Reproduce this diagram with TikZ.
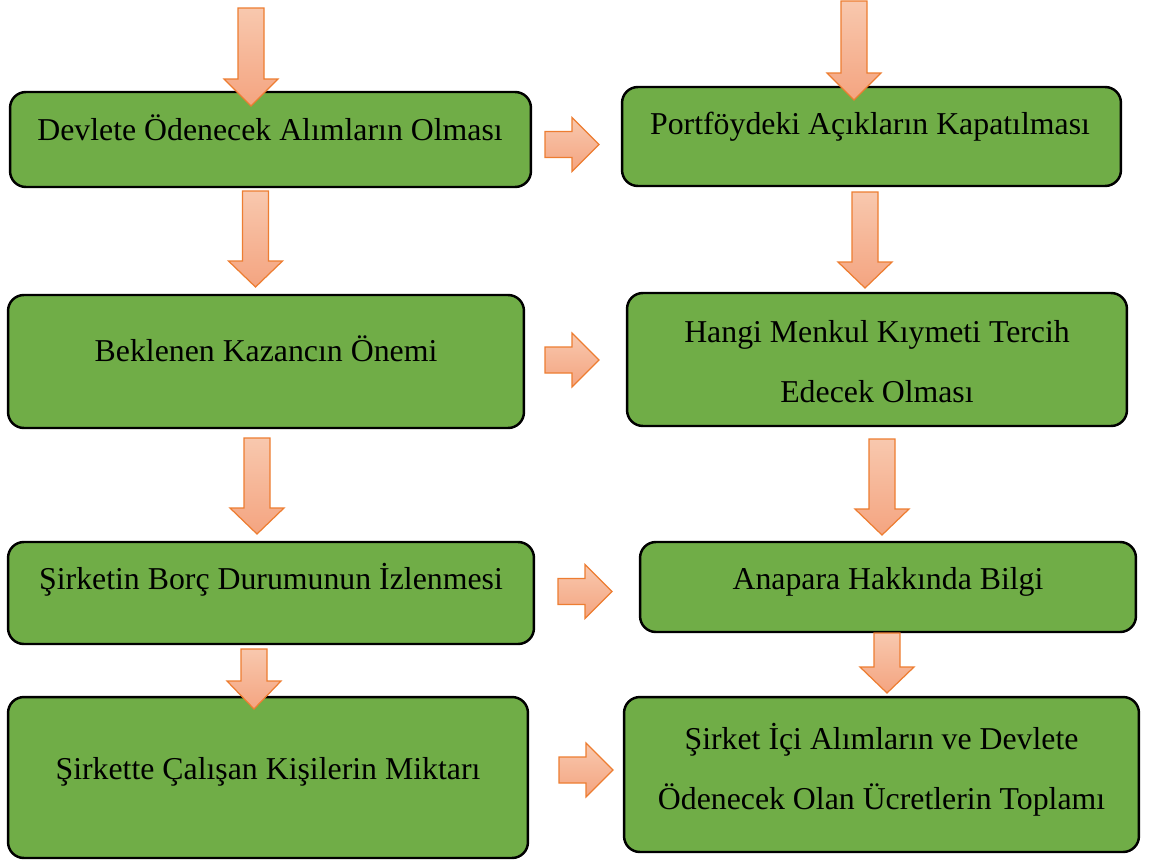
\documentclass[tikz,border=0pt]{standalone}
\usepackage{fontspec}
\setmainfont{Liberation Serif}
\definecolor{boxgreen}{RGB}{112,173,71}
\definecolor{arrline}{RGB}{237,125,49}
\definecolor{arrtop}{RGB}{248,200,174}
\definecolor{arrbot}{RGB}{244,164,128}
\usepackage{tikz}
\usetikzlibrary{positioning, calc}
\tikzset{
  gbox/.style={draw=black, fill=boxgreen, rounded corners=9pt,
               line width=1.4pt, inner sep=0pt},
  txt/.style={font=\fontsize{18.1}{34.6}\selectfont, align=center,
              text height=0.8em, text depth=0.14em, inner sep=0pt},
  blockarr/.style={draw=arrline, line width=0.7pt, top color=arrtop,
                   bottom color=arrbot},
}
% block arrows: x, top, head base, tip  /  tail, head base, tip, y
\newcommand{\downarr}[4]{%
  \draw[blockarr] (#1-13,#2) -- (#1+13,#2) -- (#1+13,#3) -- (#1+27,#3)
    -- (#1,#4) -- (#1-27,#3) -- (#1-13,#3) -- cycle;}
\newcommand{\rightarr}[4]{%
  \draw[blockarr] (#1,#4-13) -- (#2,#4-13) -- (#2,#4-27) -- (#3,#4)
    -- (#2,#4+27) -- (#2,#4+13) -- (#1,#4+13) -- cycle;}

\begin{document}
\begin{tikzpicture}[x=0.02cm, y=-0.02cm]
  \useasboundingbox (0,0) rectangle (1149,862);
  % left column
  \node[gbox, minimum width=10.42cm, minimum height=1.90cm] (l1) at (270.5,139.5){};
  \node[gbox, minimum width=10.32cm, minimum height=2.66cm] (l2) at (266,361.5){};
  \node[gbox, minimum width=10.52cm, minimum height=2.04cm] (l3) at (271,593){};
  \node[gbox, minimum width=10.40cm, minimum height=3.22cm] (l4) at (268,777.5){};
  % right column
  \node[gbox, minimum width=9.98cm, minimum height=1.98cm] (r1) at (871.5,136.5){};
  \node[gbox, minimum width=10.00cm, minimum height=2.66cm] (r2) at (877,359.5){};
  \node[gbox, minimum width=9.92cm, minimum height=1.80cm] (r3) at (888,587){};
  \node[gbox, minimum width=10.30cm, minimum height=3.10cm] (r4) at (881.5,774.5){};
  % texts (two-line texts sit on their last line)
  \node[txt] (l1t) at (270,135){Devlete Ödenecek Alımların Olması};
  \node[txt] (l2t) at (266,356){Beklenen Kazancın Önemi};
  \node[txt] (l3t) at (271,584){Şirketin Borç Durumunun İzlenmesi};
  \node[txt] (l4t) at (268,774){Şirkette Çalışan Kişilerin Miktarı};
  \node[txt] (r1t) at (870,129){Portföydeki Açıkların Kapatılması};
  \node[txt] (r2t) at (877,397){Hangi Menkul Kıymeti Tercih\\Edecek Olması};
  \node[txt] (r3t) at (888,584){Anapara Hakkında Bilgi};
  \node[txt] (r4t) at (881.5,804){Şirket İçi Alımların ve Devlete\\Ödenecek Olan Ücretlerin Toplamı};
  % arrows
  \downarr{251}{8}{79}{106}
  \downarr{854}{1}{73}{100}
  \downarr{255.5}{191}{261}{287}
  \downarr{865}{192}{262}{288}
  \downarr{257}{438}{508}{534}
  \downarr{882}{439}{509}{535}
  \downarr{254}{649}{681}{709}
  \downarr{887}{633}{667}{693}
  \rightarr{545}{572}{599}{144.5}
  \rightarr{545}{572}{599}{360}
  \rightarr{558}{585}{612}{591.5}
  \rightarr{559}{586}{613}{770}
\end{tikzpicture}
\end{document}
